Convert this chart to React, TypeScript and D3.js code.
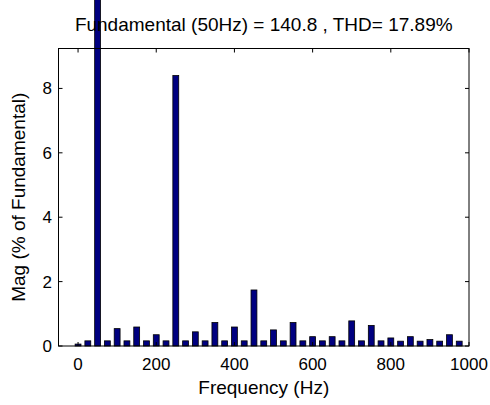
import React from 'react'
import * as d3 from 'd3'

// harmonic spectrum, % of fundamental
const freqs = [0, 25, 50, 75, 100, 125, 150, 175, 200, 225, 250, 275, 300, 325, 350, 375, 400, 425, 450, 475,
  500, 525, 550, 575, 600, 625, 650, 675, 700, 725, 750, 775, 800, 825, 850, 875, 900, 925, 950, 975]
const mags = [0.06, 0.16, 100, 0.16, 0.54, 0.16, 0.59, 0.16, 0.35, 0.16, 8.4, 0.16, 0.44, 0.16, 0.73, 0.16, 0.59, 0.16, 1.74, 0.16,
  0.5, 0.16, 0.73, 0.16, 0.29, 0.16, 0.29, 0.16, 0.78, 0.16, 0.64, 0.16, 0.25, 0.15, 0.29, 0.15, 0.2, 0.15, 0.35, 0.15]
const xTicks = [0, 200, 400, 600, 800, 1000]
const yTicks = [0, 2, 4, 6, 8]
const title = 'Fundamental (50Hz) = 140.8 , THD= 17.89%'

const W = 490, H = 405
const left = 58.5, right = 469, top = 48.5, bottom = 346
const font = '"Liberation Sans", Arial, sans-serif'

export default function App() {
  const x = d3.scaleLinear().domain([-50, 1000]).range([left, right])
  const y = d3.scaleLinear().domain([0, 9.24]).range([bottom, top])
  const bw = x(15) - x(0)
  const tl = 4

  return (
    <svg width={W} height={H} style={{ position: 'absolute', left: 0, top: 0, background: '#fff' }}>
      <rect x={0} y={0} width={W} height={H} fill="#fff" />
      {freqs.map((f, i) => {
        const yt = Math.max(y(mags[i]), -2)
        return (
          <rect key={f} x={x(f) - bw / 2} y={yt} width={bw} height={bottom - yt}
            fill="#000080" stroke="#000" strokeWidth={0.8} />
        )
      })}
      <rect x={left} y={top} width={right - left} height={bottom - top} fill="none" stroke="#000" strokeWidth={1} />
      {xTicks.map(t => (
        <g key={'x' + t}>
          <line x1={x(t)} x2={x(t)} y1={bottom} y2={bottom - tl} stroke="#000" />
          <line x1={x(t)} x2={x(t)} y1={top} y2={top + tl} stroke="#000" />
          <text x={x(t)} y={369.5} textAnchor="middle" fontFamily={font} fontSize={17} fill="#000">{t}</text>
        </g>
      ))}
      {yTicks.map(t => (
        <g key={'y' + t}>
          <line x1={left} x2={left + tl} y1={y(t)} y2={y(t)} stroke="#000" />
          <line x1={right} x2={right - tl} y1={y(t)} y2={y(t)} stroke="#000" />
          <text x={52} y={y(t) + 6} textAnchor="end" fontFamily={font} fontSize={17} fill="#000">{t}</text>
        </g>
      ))}
      <text x={(left + right) / 2} y={394} textAnchor="middle" fontFamily={font} fontSize={19} fill="#000">Frequency (Hz)</text>
      <text transform={`translate(25,${(top + bottom) / 2}) rotate(-90)`} textAnchor="middle" fontFamily={font} fontSize={19} fill="#000">Mag (% of Fundamental)</text>
      <text x={(left + right) / 2} y={31} textAnchor="middle" fontFamily={font} fontSize={19} fill="#000">{title}</text>
    </svg>
  )
}
